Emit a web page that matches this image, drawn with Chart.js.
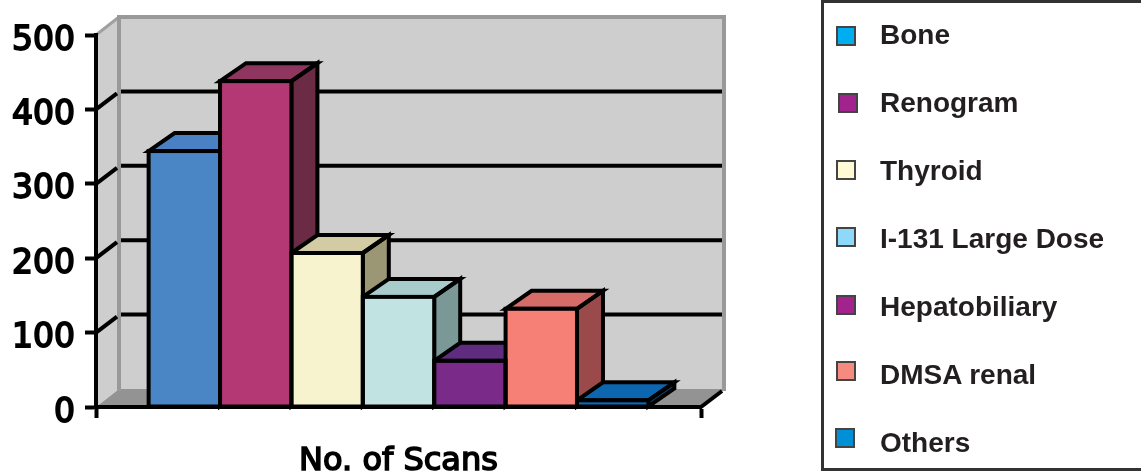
<!DOCTYPE html>
<html>
<head>
<meta charset="utf-8">
<script src="https://cdn.jsdelivr.net/npm/chart.js@4"></script>
<style>
html, body { margin: 0; padding: 0; background: #fff; overflow: hidden; }
#wrap { position: relative; width: 1141px; height: 473px; overflow: hidden; }
#chart { display: block; }
#legend { position: absolute; left: 821px; top: 0; width: 330px; height: 471px; box-sizing: border-box;
  border: 3px solid #333; font: bold 28px "Liberation Sans", Arial, sans-serif; color: #231f20; }
.row { position: absolute; left: 56px; white-space: nowrap; line-height: 30px; height: 30px; }
.swatch { position: absolute; width: 20px; height: 20px; box-sizing: border-box; border: 2px solid #444; }
</style>
</head>
<body>
<div id="wrap">
  <canvas id="chart" width="1141" height="473"></canvas>
  <div id="legend"></div>
</div>
<script>
const categories = ['No. of Scans'];
const series = ['Bone', 'Renogram', 'Thyroid', 'I-131 Large Dose', 'Hepatobiliary', 'DMSA renal', 'Others'];
const values = [344, 438, 207, 148, 62, 132, 9];
const yTicks = [0, 100, 200, 300, 400, 500];

const frontColors = ['#4a86c6', '#b33873', '#f8f3cf', '#c1e3e2', '#7a2b8a', '#f67f76', '#0c66b0'];
const topColors = ['#4a80c4', '#8e3560', '#d3cba3', '#a8cccb', '#5f2c80', '#d66c68', '#0c66b0'];
const sideColors = ['#3a6a9c', '#6b2b45', '#9b9674', '#7a9896', '#5f2c80', '#9a4a4a', '#0a4d85'];
const legendColors = ['#00aeef', '#a3238e', '#fff9d6', '#8ed8f8', '#a3238e', '#f58a80', '#0090d6'];
const swatchLeft = [12, 14, 12, 12, 12, 12, 11];
const swatchTop = [23, 90, 157, 224, 292, 358, 425];

const BLACK = '#000';

function poly(ctx, pts, fill) {
    ctx.beginPath();
    pts.forEach((p, i) => i ? ctx.lineTo(p[0], p[1]) : ctx.moveTo(p[0], p[1]));
    ctx.closePath();
    ctx.fillStyle = fill;
    ctx.fill();
}

function line(ctx, x1, y1, x2, y2, color, width) {
    ctx.beginPath();
    ctx.moveTo(x1, y1);
    ctx.lineTo(x2, y2);
    ctx.strokeStyle = color;
    ctx.lineWidth = width;
    ctx.stroke();
}

// the grey box behind the bars
const wallsPlugin = {
    id: 'walls',
    beforeDraw(chart) {
        const ctx = chart.ctx, y = chart.scales.y, a = chart.chartArea;
        const dx = 23, dy = 18;
        const bottom = y.getPixelForValue(0), top = y.getPixelForValue(500);
        const l = a.left, r = a.right;
        ctx.save();
        poly(ctx, [[l, top], [l + dx, top - dy], [r + dx, top - dy], [r + dx, bottom - dy], [l + dx, bottom - dy], [l, bottom]], '#cecece');
        poly(ctx, [[l, bottom], [l + dx, bottom - dy], [r + dx, bottom - dy], [r, bottom]], '#939393');
        line(ctx, l, top, l + dx, top - dy, '#a0a0a0', 3);
        ctx.lineCap = 'square';
        line(ctx, l + dx, top - dy, r + dx, top - dy, '#999', 4);
        line(ctx, l + dx, top - dy, l + dx, bottom - dy, '#999', 4);
        line(ctx, r + dx, top - dy, r + dx, bottom - dy, '#999', 4);
        ctx.lineCap = 'butt';
        yTicks.slice(1, -1).forEach(v => {
            const py = y.getPixelForValue(v);
            line(ctx, l, py, l + dx - 2, py - dy + 2, BLACK, 4);
            line(ctx, l + dx + 2, py - dy, r + dx - 2, py - dy, BLACK, 4);
        });
        line(ctx, r, bottom, r + dx - 2, bottom - dy + 2, BLACK, 4);
        ctx.restore();
    },
    // tops and sides go under the fronts, left to right
    beforeDatasetsDraw(chart) {
        const ctx = chart.ctx;
        const dx = 26, dy = 18;
        ctx.save();
        ctx.lineJoin = 'miter';
        chart.data.datasets.forEach((ds, i) => {
            const bar = chart.getDatasetMeta(i).data[0];
            const x1 = bar.x - bar.width / 2, x2 = bar.x + bar.width / 2;
            const side = [[x2, bar.y], [x2 + dx, bar.y - dy], [x2 + dx, bar.base - dy], [x2, bar.base]];
            const top = [[x1, bar.y], [x1 + dx, bar.y - dy], [x2 + dx, bar.y - dy], [x2, bar.y]];
            poly(ctx, side, sideColors[i]);
            poly(ctx, top, topColors[i]);
            ctx.strokeStyle = BLACK;
            ctx.lineWidth = 4;
            [side, top].forEach(pts => {
                ctx.beginPath();
                pts.forEach((p, k) => k ? ctx.lineTo(p[0], p[1]) : ctx.moveTo(p[0], p[1]));
                ctx.closePath();
                ctx.stroke();
            });
        });
        ctx.restore();
    },
    afterDatasetsDraw(chart) {
        const ctx = chart.ctx;
        ctx.save();
        ctx.strokeStyle = BLACK;
        ctx.lineWidth = 4;
        chart.data.datasets.forEach((ds, i) => {
            const bar = chart.getDatasetMeta(i).data[0];
            ctx.strokeRect(bar.x - bar.width / 2, bar.y, bar.width, bar.base - bar.y);
        });
        ctx.restore();
    }
};

new Chart(document.getElementById('chart'), {
    type: 'bar',
    data: {
        labels: categories,
        datasets: series.map((name, i) => ({
            label: name,
            data: [values[i]],
            backgroundColor: frontColors[i],
            borderWidth: 0,
            barPercentage: 1,
            categoryPercentage: 0.826
        }))
    },
    options: {
        responsive: false,
        animation: false,
        layout: { padding: { top: 35, right: 440, left: 0, bottom: 0 } },
        plugins: { legend: { display: false }, tooltip: { enabled: false } },
        scales: {
            x: {
                afterFit(s) { s.height = 66; },
                border: { color: BLACK, width: 4 },
                grid: { drawOnChartArea: false, color: BLACK, tickColor: BLACK, tickLength: 11, tickWidth: 4 },
                ticks: {
                    color: BLACK, padding: 24, textStrokeColor: BLACK, textStrokeWidth: 1.6,
                    font: { family: 'DejaVu Sans', size: 32 }
                }
            },
            y: {
                min: 0,
                max: 500,
                afterFit(s) { s.width = 96; },
                afterBuildTicks(s) { s.ticks = yTicks.map(v => ({ value: v })); },
                border: { color: BLACK, width: 4 },
                grid: { drawOnChartArea: false, color: BLACK, tickColor: BLACK, tickLength: 11, tickWidth: 4 },
                ticks: {
                    color: BLACK, padding: 10, labelOffset: 6, textStrokeColor: BLACK, textStrokeWidth: 1.8,
                    font: { family: 'DejaVu Sans', size: 33 }
                }
            }
        }
    },
    plugins: [wallsPlugin]
});

const legend = document.getElementById('legend');
series.forEach((name, i) => {
    const cy = 32 + i * 68;
    const sw = document.createElement('div');
    sw.className = 'swatch';
    sw.style.left = swatchLeft[i] + 'px';
    sw.style.top = swatchTop[i] + 'px';
    sw.style.background = legendColors[i];
    const row = document.createElement('div');
    row.className = 'row';
    row.style.top = (cy - 15) + 'px';
    row.textContent = name;
    legend.appendChild(sw);
    legend.appendChild(row);
});
</script>
</body>
</html>
